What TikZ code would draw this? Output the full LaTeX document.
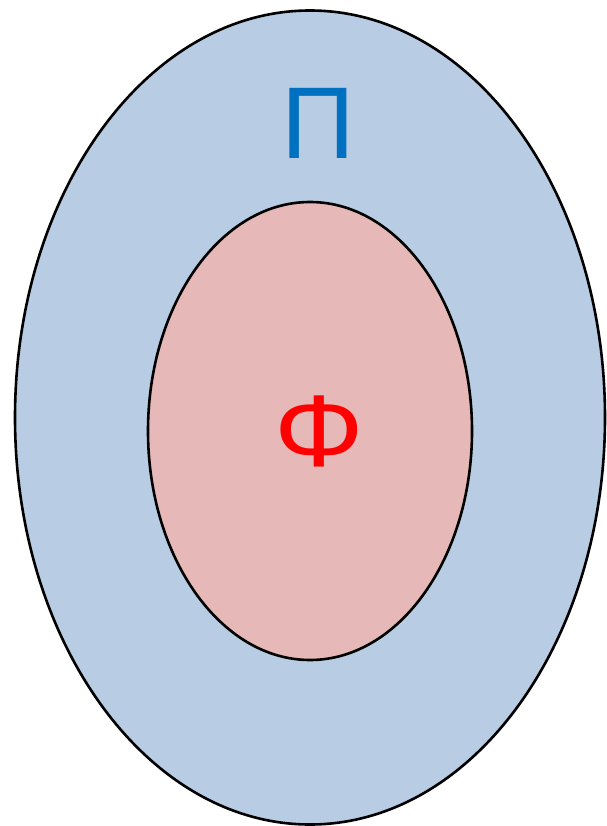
\documentclass[tikz,border=0pt]{standalone}
\usepackage{fontspec}
\setmainfont{Liberation Sans}
\usetikzlibrary{shapes.geometric}

\definecolor{setblue}{RGB}{184,204,228}
\definecolor{setpink}{RGB}{230,184,183}
\definecolor{pitext}{RGB}{0,112,192}

\begin{document}
\begin{tikzpicture}[x=1pt,y=-1pt,
   st/.style={ellipse,draw=black,line width=2.6pt,inner sep=0pt},
   lbl/.style={font=\fontsize{102}{110}\selectfont,inner sep=0pt}]
  \useasboundingbox (0,0) rectangle (606,826);
  \node[st,fill=setblue,minimum width=590pt,minimum height=814pt] (outer) at (310,417.5) {};
  \node[st,fill=setpink,minimum width=324pt,minimum height=458pt] (inner) at (310,431) {};
  \node[lbl,text=pitext] (pi) at (318,123) {Π};
  \node[lbl,text=red,xscale=1.1] (phi) at (319,431) {Φ};
\end{tikzpicture}
\end{document}
